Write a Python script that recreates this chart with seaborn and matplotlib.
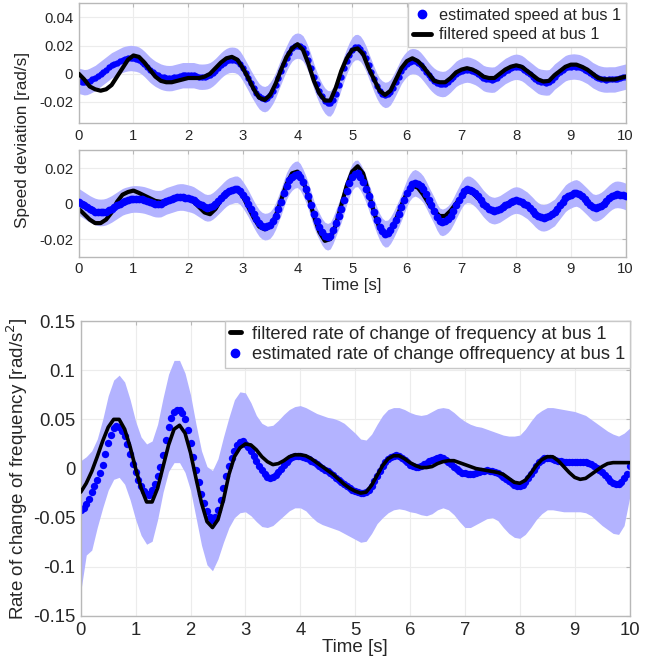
import numpy as np
import pandas as pd
import matplotlib
matplotlib.use("Agg")
import matplotlib.pyplot as plt
import seaborn as sns
from matplotlib.lines import Line2D

# time axes: filtered curves every 0.1 s, estimates every 0.05 s
time = np.linspace(0, 10, 101)
time_est = np.linspace(0, 10, 201)

# --- panel 1: speed deviation at bus 1 ---
est_speed_1 = [-0.005, -0.0055, -0.006, -0.0058, -0.005, -0.004, -0.003, -0.0015, 0.000, 0.0015,
               0.003, 0.0045, 0.006, 0.007, 0.008, 0.009, 0.010, 0.0106, 0.011, 0.0112,
               0.011, 0.0107, 0.010, 0.0087, 0.007, 0.005, 0.003, 0.0014, 0.000, -0.001,
               -0.002, -0.0026, -0.003, -0.0031, -0.003, -0.0025, -0.002, -0.0015, -0.001, -0.001,
               -0.001, -0.001, -0.001, -0.0015, -0.002, -0.0021, -0.002, -0.0017, -0.001, 0.0003,
               0.002, 0.004, 0.006, 0.0077, 0.009, 0.0098, 0.010, 0.0098, 0.009, 0.007,
               0.004, 0.0005, -0.003, -0.0067, -0.010, -0.0133, -0.016, -0.0175, -0.018, -0.0172,
               -0.015, -0.012, -0.008, -0.003, 0.002, 0.0068, 0.011, 0.015, 0.018, 0.0195,
               0.020, 0.0195, 0.018, 0.0145, 0.010, 0.0043, -0.002, -0.0073, -0.012, -0.016,
               -0.019, -0.0208, -0.021, -0.0185, -0.014, -0.008, -0.002, 0.0038, 0.009, 0.0135,
               0.017, 0.0188, 0.019, 0.0178, 0.015, 0.011, 0.006, 0.001, -0.004, -0.0085,
               -0.012, -0.014, -0.015, -0.0146, -0.013, -0.0098, -0.006, -0.002, 0.002, 0.0048,
               0.007, 0.0085, 0.009, 0.0088, 0.008, 0.0063, 0.004, 0.0015, -0.001, -0.0032,
               -0.005, -0.0063, -0.007, -0.0073, -0.007, -0.0057, -0.004, -0.002, 0.000, 0.0012,
               0.002, 0.0027, 0.003, 0.0027, 0.002, 0.0012, 0.000, -0.0015, -0.003, -0.0037,
               -0.004, -0.0042, -0.004, -0.0027, -0.001, 0.0005, 0.002, 0.003, 0.004, 0.0047,
               0.005, 0.0047, 0.004, 0.0027, 0.001, -0.0005, -0.002, -0.0036, -0.005, -0.0057,
               -0.006, -0.0062, -0.006, -0.0042, -0.002, -0.0005, 0.001, 0.0026, 0.004, 0.0047,
               0.005, 0.0052, 0.005, 0.0047, 0.004, 0.003, 0.002, 0.0005, -0.001, -0.002,
               -0.003, -0.0036, -0.004, -0.0041, -0.004, -0.004, -0.004, -0.0035, -0.003, -0.0025,
               -0.002]
filt_speed_1 = [0.000, -0.004, -0.009, -0.011, -0.012, -0.011, -0.008, -0.002, 0.004, 0.010,
                0.013, 0.012, 0.008, 0.003, -0.002, -0.005, -0.006, -0.006, -0.005, -0.004,
                -0.003, -0.003, -0.003, -0.002, 0.000, 0.004, 0.008, 0.011, 0.012, 0.010,
                0.004, -0.003, -0.011, -0.017, -0.0185, -0.015, -0.007, 0.003, 0.012, 0.018,
                0.021, 0.017, 0.007, -0.005, -0.014, -0.019, -0.019, -0.010, 0.002, 0.011,
                0.017, 0.018, 0.014, 0.004, -0.004, -0.012, -0.015, -0.012, -0.004, 0.004,
                0.009, 0.011, 0.009, 0.005, 0.000, -0.005, -0.006, -0.006, -0.003, 0.001,
                0.003, 0.004, 0.003, 0.001, -0.002, -0.003, -0.003, 0.000, 0.003, 0.005,
                0.006, 0.005, 0.002, -0.001, -0.004, -0.0055, -0.005, -0.001, 0.002, 0.005,
                0.0065, 0.0065, 0.005, 0.003, 0.000, -0.003, -0.004, -0.004, -0.004, -0.003,
                -0.002]
band_half_1 = 0.009

# --- panel 2: speed deviation, second estimate ---
est_speed_2 = [0.001, 0.000, -0.001, -0.002, -0.003, -0.0038, -0.0045, -0.0049, -0.005, -0.0049,
               -0.0045, -0.0038, -0.003, -0.002, -0.001, 0.000, 0.001, 0.0016, 0.002, 0.0024,
               0.0026, 0.0026, 0.0025, 0.0023, 0.002, 0.0015, 0.001, 0.0004, 0.000, -0.0001,
               0.000, 0.0007, 0.0015, 0.002, 0.0025, 0.003, 0.0035, 0.0037, 0.0037, 0.0034,
               0.003, 0.0026, 0.002, 0.001, 0.000, -0.001, -0.002, -0.0024, -0.0022, -0.0013,
               0.000, 0.0015, 0.003, 0.0046, 0.006, 0.007, 0.0075, 0.008, 0.008, 0.007,
               0.005, 0.0026, 0.000, -0.003, -0.006, -0.0087, -0.011, -0.0124, -0.013, -0.0128,
               -0.012, -0.010, -0.007, -0.003, 0.001, 0.0057, 0.010, 0.013, 0.015, 0.0162,
               0.0165, 0.015, 0.012, 0.0083, 0.004, -0.001, -0.006, -0.0098, -0.013, -0.016,
               -0.018, -0.0187, -0.018, -0.015, -0.011, -0.007, -0.003, 0.002, 0.007, 0.0115,
               0.015, 0.0168, 0.017, 0.015, 0.012, 0.0083, 0.004, -0.0005, -0.005, -0.0093,
               -0.013, -0.0157, -0.017, -0.0168, -0.015, -0.0123, -0.009, -0.0057, -0.002, 0.002,
               0.006, 0.009, 0.011, 0.0117, 0.011, 0.0098, 0.008, 0.0052, 0.002, -0.001,
               -0.004, -0.0075, -0.010, -0.0106, -0.010, -0.0088, -0.007, -0.0042, -0.001, 0.002,
               0.005, 0.0072, 0.008, 0.0079, 0.007, 0.0057, 0.004, 0.002, 0.000, -0.0016,
               -0.003, -0.0037, -0.004, -0.0036, -0.003, -0.002, -0.001, 0.000, 0.001, 0.0017,
               0.002, 0.0017, 0.001, 0.000, -0.001, -0.0025, -0.004, -0.0057, -0.007, -0.0078,
               -0.008, -0.0077, -0.007, -0.006, -0.005, -0.003, -0.001, 0.001, 0.003, 0.0042,
               0.005, 0.0057, 0.006, 0.0053, 0.004, 0.0025, 0.001, -0.0006, -0.002, -0.0024,
               -0.002, -0.0012, 0.000, 0.0015, 0.003, 0.0042, 0.005, 0.0052, 0.005, 0.0046,
               0.004]
filt_speed_2 = [-0.003, -0.006, -0.009, -0.011, -0.011, -0.009, -0.005, 0.001, 0.005, 0.0065,
                0.0073, 0.006, 0.0045, 0.003, 0.0015, 0.001, 0.0015, 0.0025, 0.003, 0.003,
                0.0025, 0.001, -0.002, -0.005, -0.006, -0.003, 0.002, 0.006, 0.008, 0.008,
                0.004, -0.002, -0.008, -0.013, -0.0145, -0.013, -0.007, 0.002, 0.011, 0.017,
                0.018, 0.013, 0.004, -0.007, -0.016, -0.021, -0.020, -0.012, -0.001, 0.010,
                0.018, 0.021, 0.017, 0.006, -0.005, -0.014, -0.018, -0.016, -0.009, -0.001,
                0.006, 0.010, 0.009, 0.005, 0.000, -0.004, -0.007, -0.007, -0.004, 0.000,
                0.004, 0.007, 0.006, 0.003, 0.000, -0.003, -0.004, -0.003, -0.001, 0.001,
                0.002, 0.001, -0.001, -0.004, -0.007, -0.008, -0.007, -0.005, -0.001, 0.003,
                0.005, 0.006, 0.004, 0.001, -0.002, -0.002, 0.000, 0.003, 0.005, 0.005,
                0.004]
band_half_2 = 0.0075

# --- panel 3: rate of change of frequency ---
filt_rocof = [-0.024, -0.015, -0.003, 0.012, 0.028, 0.042, 0.050, 0.050, 0.040, 0.022,
              0.000, -0.020, -0.034, -0.034, -0.020, 0.002, 0.024, 0.040, 0.044, 0.036,
              0.016, -0.010, -0.035, -0.054, -0.060, -0.052, -0.032, -0.006, 0.012, 0.021,
              0.025, 0.024, 0.019, 0.012, 0.007, 0.004, 0.005, 0.008, 0.012, 0.014,
              0.014, 0.013, 0.010, 0.006, 0.002, -0.002, -0.006, -0.011, -0.016, -0.020,
              -0.023, -0.025, -0.024, -0.017, -0.007, 0.003, 0.010, 0.013, 0.013, 0.010,
              0.006, 0.003, 0.001, 0.001, 0.002, 0.005, 0.007, 0.008, 0.008, 0.006,
              0.004, 0.002, 0.000, -0.001, -0.002, -0.003, -0.004, -0.006, -0.010, -0.014,
              -0.015, -0.012, -0.005, 0.003, 0.009, 0.012, 0.012, 0.008, 0.002, -0.004,
              -0.009, -0.011, -0.010, -0.006, -0.002, 0.002, 0.005, 0.006, 0.006, 0.006,
              0.006]
est_rocof = [-0.042, -0.040, -0.036, -0.031, -0.024, -0.018, -0.012, -0.005, 0.004, 0.015,
             0.026, 0.034, 0.041, 0.043, 0.042, 0.038, 0.033, 0.025, 0.015, 0.005,
             -0.004, -0.012, -0.018, -0.023, -0.026, -0.0265, -0.022, -0.016, -0.008, 0.002,
             0.014, 0.029, 0.042, 0.051, 0.057, 0.060, 0.060, 0.056, 0.050, 0.039,
             0.026, 0.012, -0.001, -0.014, -0.026, -0.035, -0.043, -0.049, -0.052, -0.049,
             -0.042, -0.032, -0.020, -0.008, 0.003, 0.011, 0.018, 0.024, 0.027, 0.028,
             0.025, 0.022, 0.018, 0.013, 0.008, 0.003, -0.002, -0.006, -0.009, -0.010,
             -0.009, -0.007, -0.004, 0.000, 0.004, 0.007, 0.010, 0.012, 0.013, 0.013,
             0.013, 0.012, 0.011, 0.0095, 0.008, 0.0065, 0.005, 0.003, 0.001, -0.001,
             -0.003, -0.005, -0.007, -0.0095, -0.012, -0.014, -0.016, -0.018, -0.020, -0.0215,
             -0.023, -0.024, -0.025, -0.025, -0.024, -0.0215, -0.018, -0.013, -0.008, -0.0025,
             0.003, 0.007, 0.010, 0.012, 0.013, 0.0135, 0.013, 0.011, 0.009, 0.0065,
             0.004, 0.0025, 0.002, 0.002, 0.003, 0.0045, 0.006, 0.0075, 0.009, 0.010,
             0.011, 0.0113, 0.011, 0.009, 0.007, 0.0045, 0.002, -0.0005, -0.003, -0.0043,
             -0.005, -0.0057, -0.006, -0.0057, -0.005, -0.004, -0.003, -0.0025, -0.002, -0.0023,
             -0.003, -0.004, -0.005, -0.007, -0.009, -0.011, -0.013, -0.015, -0.017, -0.0178,
             -0.018, -0.0165, -0.014, -0.010, -0.006, -0.0015, 0.003, 0.0065, 0.009, 0.0105,
             0.011, 0.0107, 0.010, 0.009, 0.008, 0.0075, 0.007, 0.007, 0.007, 0.007,
             0.007, 0.007, 0.007, 0.007, 0.007, 0.006, 0.005, 0.003, 0.001, -0.0015,
             -0.004, -0.007, -0.010, -0.013, -0.015, -0.016, -0.016, -0.0135, -0.010, -0.006,
             0.003]
rocof_upper = [0.008, 0.012, 0.018, 0.030, 0.050, 0.074, 0.090, 0.095, 0.088, 0.070,
               0.048, 0.032, 0.025, 0.028, 0.045, 0.072, 0.096, 0.110, 0.110, 0.097,
               0.075, 0.045, 0.018, 0.002, -0.002, 0.010, 0.032, 0.052, 0.070, 0.078,
               0.077, 0.067, 0.054, 0.046, 0.043, 0.044, 0.049, 0.055, 0.060, 0.063,
               0.064, 0.062, 0.059, 0.056, 0.054, 0.052, 0.051, 0.049, 0.046, 0.041,
               0.036, 0.030, 0.029, 0.035, 0.045, 0.054, 0.060, 0.062, 0.062, 0.060,
               0.057, 0.055, 0.054, 0.055, 0.058, 0.061, 0.062, 0.061, 0.057, 0.052,
               0.048, 0.045, 0.043, 0.042, 0.040, 0.038, 0.036, 0.034, 0.033, 0.033,
               0.034, 0.040, 0.048, 0.055, 0.059, 0.062, 0.062, 0.061, 0.060, 0.059,
               0.058, 0.056, 0.054, 0.050, 0.046, 0.042, 0.038, 0.035, 0.033, 0.036,
               0.041]
rocof_lower = [-0.125, -0.088, -0.083, -0.060, -0.040, -0.022, -0.011, -0.009, -0.016, -0.032,
               -0.052, -0.068, -0.077, -0.074, -0.052, -0.024, -0.003, 0.006, 0.006, -0.004,
               -0.022, -0.050, -0.078, -0.098, -0.104, -0.092, -0.075, -0.060, -0.050, -0.045,
               -0.044, -0.048, -0.054, -0.059, -0.060, -0.058, -0.053, -0.048, -0.043, -0.040,
               -0.040, -0.043, -0.049, -0.054, -0.057, -0.059, -0.061, -0.063, -0.066, -0.069,
               -0.072, -0.075, -0.074, -0.066, -0.056, -0.050, -0.045, -0.042, -0.041, -0.042,
               -0.044, -0.045, -0.047, -0.048, -0.046, -0.042, -0.040, -0.042, -0.047, -0.054,
               -0.060, -0.060, -0.057, -0.054, -0.051, -0.050, -0.053, -0.060, -0.066, -0.070,
               -0.071, -0.067, -0.060, -0.052, -0.046, -0.042, -0.042, -0.043, -0.044, -0.044,
               -0.044, -0.044, -0.045, -0.048, -0.053, -0.058, -0.062, -0.066, -0.067, -0.058,
               -0.030]

sns.set_style("whitegrid")
plt.rcParams['font.family'] = ['Liberation Sans', 'DejaVu Sans']
plt.rcParams['axes.unicode_minus'] = False

band_color = (0.70, 0.70, 1.0)
grid_color = '#ececec'
spine_color = '#b8b8b8'
text_color = '#262626'


def style_axes(ax, ylim, yticks, fs):
    ax.set_xlim(0, 10)
    ax.set_ylim(*ylim)
    ax.set_xticks(range(0, 11))
    ax.set_yticks(yticks)
    ax.set_xticklabels([str(v) for v in range(0, 11)])
    ax.set_yticklabels(['%g' % v for v in yticks])
    ax.grid(True, color=grid_color, linewidth=0.8)
    ax.set_axisbelow(True)
    for sp in ax.spines.values():
        sp.set_color(spine_color)
        sp.set_linewidth(1.0)
    ax.tick_params(direction='in', length=3, top=True, right=True, color=spine_color,
                   labelcolor=text_color, labelsize=fs, pad=4)
    ax.set_xlabel('')
    ax.set_ylabel('')


fig = plt.figure(figsize=(6.62, 6.62), dpi=100)
ax1 = fig.add_axes([0.119, 0.814, 0.826, 0.181])
ax2 = fig.add_axes([0.119, 0.612, 0.826, 0.161])
ax3 = fig.add_axes([0.122, 0.0695, 0.829, 0.4455])

df1 = pd.DataFrame({'t': time, 'filt': filt_speed_1})
de1 = pd.DataFrame({'t': time_est, 'est': est_speed_1})
df2 = pd.DataFrame({'t': time, 'filt': filt_speed_2})
de2 = pd.DataFrame({'t': time_est, 'est': est_speed_2})
df3 = pd.DataFrame({'t': time, 'filt': filt_rocof, 'up': rocof_upper, 'lo': rocof_lower})
de3 = pd.DataFrame({'t': time_est, 'est': est_rocof})

# panel 1
ax1.fill_between(de1['t'], de1['est'] - band_half_1, de1['est'] + band_half_1,
                 color=band_color, linewidth=0, zorder=1)
sns.scatterplot(data=de1, x='t', y='est', ax=ax1, color='blue', s=21, linewidth=0, zorder=2)
sns.lineplot(data=df1, x='t', y='filt', ax=ax1, color='black', linewidth=3, zorder=3)
style_axes(ax1, (-0.035, 0.05), [-0.02, 0, 0.02, 0.04], 10.7)
h1 = [Line2D([], [], color='blue', marker='o', linestyle='none', markersize=6),
      Line2D([], [], color='black', linewidth=3.5)]
ax1.legend(h1, ['estimated speed at bus 1', 'filtered speed at bus 1'], loc='upper right',
           borderaxespad=0, fancybox=False, edgecolor='#c8c8c8', framealpha=1,
           handlelength=1.1, handletextpad=0.5, borderpad=0.3, labelspacing=0.25,
           fontsize=11.7)

# panel 2
ax2.fill_between(de2['t'], de2['est'] - band_half_2, de2['est'] + band_half_2,
                 color=band_color, linewidth=0, zorder=1)
sns.lineplot(data=df2, x='t', y='filt', ax=ax2, color='black', linewidth=3, zorder=2)
sns.scatterplot(data=de2, x='t', y='est', ax=ax2, color='blue', s=31, linewidth=0, zorder=3)
style_axes(ax2, (-0.03, 0.03), [-0.02, 0, 0.02], 10.7)
ax2.set_xlabel('Time [s]', fontsize=12.2, color=text_color, labelpad=1)

fig.text(0.034, 0.789, 'Speed deviation [rad/s]', rotation=90, ha='center', va='center',
         fontsize=12.3, color=text_color)

# panel 3
ax3.fill_between(df3['t'], df3['lo'], df3['up'], color=band_color, linewidth=0, zorder=1)
sns.scatterplot(data=de3, x='t', y='est', ax=ax3, color='blue', s=28, linewidth=0, zorder=2)
sns.lineplot(data=df3, x='t', y='filt', ax=ax3, color='black', linewidth=2.6, zorder=3)
style_axes(ax3, (-0.15, 0.15), [-0.15, -0.1, -0.05, 0, 0.05, 0.1, 0.15], 13.3)
ax3.set_xlabel('Time [s]', fontsize=13.5, color=text_color, labelpad=0)
ax3.set_ylabel('Rate of change of frequency [rad/s$^2$]', fontsize=13.5, color=text_color,
               labelpad=2)
h3 = [Line2D([], [], color='black', linewidth=3.5),
      Line2D([], [], color='blue', marker='o', linestyle='none', markersize=6)]
ax3.legend(h3, ['filtered rate of change of frequency at bus 1',
                'estimated rate of change offrequency at bus 1'], loc='upper right',
           borderaxespad=0, fancybox=False, edgecolor='#c8c8c8', framealpha=1,
           handlelength=0.6, handletextpad=0.6, borderpad=0.25, labelspacing=0.2,
           fontsize=13.2)

fig.savefig('out.png', dpi=100)
